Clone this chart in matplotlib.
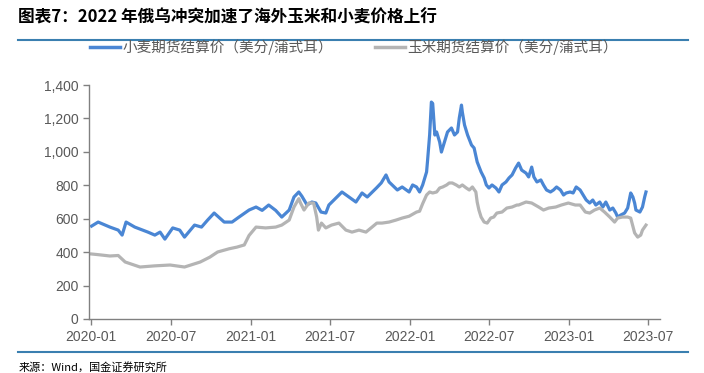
import pandas as pd
import matplotlib
matplotlib.use('Agg')
import matplotlib.pyplot as plt
import matplotlib.dates as mdates
from matplotlib.ticker import FuncFormatter, MultipleLocator
from matplotlib.lines import Line2D

plt.rcParams['font.family'] = ['Noto Sans CJK SC', 'DejaVu Sans']

# wheat futures settlement (US cents / bushel)
wheat_dates = ['2020-01-02', '2020-01-17', '2020-02-13', '2020-03-03', '2020-03-12', '2020-03-21',
               '2020-04-10', '2020-05-10', '2020-05-26', '2020-06-07', '2020-06-18', '2020-07-06',
               '2020-07-22', '2020-08-02', '2020-08-25', '2020-09-10', '2020-09-24', '2020-10-09',
               '2020-11-01', '2020-11-19', '2020-12-05', '2020-12-28', '2021-01-13', '2021-01-27',
               '2021-02-11', '2021-02-27', '2021-03-13', '2021-03-30', '2021-04-10', '2021-04-21',
               '2021-04-28', '2021-05-10', '2021-05-21', '2021-05-30', '2021-06-11', '2021-06-22',
               '2021-06-29', '2021-07-15', '2021-07-29', '2021-08-14', '2021-08-30', '2021-09-13',
               '2021-09-25', '2021-10-16', '2021-10-27', '2021-11-07', '2021-11-14', '2021-11-21',
               '2021-12-03', '2021-12-14', '2021-12-30', '2022-01-07', '2022-01-16', '2022-01-23',
               '2022-01-30', '2022-02-08', '2022-02-10', '2022-02-15', '2022-02-19', '2022-02-22',
               '2022-02-27', '2022-03-03', '2022-03-10', '2022-03-14', '2022-03-21', '2022-03-28',
               '2022-04-06', '2022-04-13', '2022-04-20', '2022-04-24', '2022-04-29', '2022-05-01',
               '2022-05-06', '2022-05-13', '2022-05-22', '2022-05-28', '2022-06-04', '2022-06-13',
               '2022-06-20', '2022-06-25', '2022-07-01', '2022-07-08', '2022-07-17', '2022-07-24',
               '2022-07-31', '2022-08-09', '2022-08-16', '2022-08-23', '2022-08-31', '2022-09-07',
               '2022-09-14', '2022-09-24', '2022-09-30', '2022-10-07', '2022-10-12', '2022-10-19',
               '2022-10-28', '2022-11-03', '2022-11-10', '2022-11-19', '2022-11-26', '2022-12-03',
               '2022-12-12', '2022-12-19', '2022-12-25', '2023-01-03', '2023-01-10', '2023-01-17',
               '2023-01-26', '2023-02-02', '2023-02-09', '2023-02-17', '2023-02-24', '2023-03-03',
               '2023-03-12', '2023-03-19', '2023-03-26', '2023-04-04', '2023-04-11', '2023-04-18',
               '2023-04-22', '2023-04-29', '2023-05-08', '2023-05-15', '2023-05-22', '2023-05-27',
               '2023-05-31', '2023-06-03', '2023-06-12', '2023-06-18', '2023-06-23', '2023-06-26']
wheat_vals = [556, 580, 550, 532, 502, 580,
              550, 520, 502, 520, 478, 545,
              532, 490, 562, 550, 592, 634,
              580, 580, 610, 652, 670, 650,
              682, 650, 610, 652, 730, 760,
              735, 682, 700, 694, 640, 634,
              682, 724, 760, 730, 700, 754,
              730, 784, 814, 862, 820, 802,
              772, 790, 760, 802, 790, 760,
              802, 880, 940, 1101, 1298, 1290,
              1101, 1119, 1059, 999, 1059, 1119,
              1143, 1101, 1119, 1203, 1280, 1238,
              1161, 1101, 1041, 1023, 940, 880,
              844, 802, 784, 802, 784, 760,
              802, 820, 844, 862, 903, 933,
              891, 873, 850, 909, 850, 820,
              832, 802, 772, 760, 772, 790,
              772, 742, 754, 760, 754, 790,
              772, 742, 712, 694, 712, 682,
              700, 670, 700, 652, 664, 634,
              610, 622, 634, 664, 754, 730,
              694, 652, 640, 670, 730, 760]

# corn futures settlement (US cents / bushel)
corn_dates = ['2020-01-02', '2020-01-17', '2020-02-13', '2020-03-03', '2020-03-19', '2020-04-22',
              '2020-05-26', '2020-06-30', '2020-08-02', '2020-09-07', '2020-09-29', '2020-10-17',
              '2020-11-12', '2020-11-30', '2020-12-17', '2020-12-28', '2021-01-13', '2021-02-04',
              '2021-02-27', '2021-03-13', '2021-03-30', '2021-04-10', '2021-04-21', '2021-04-25',
              '2021-05-03', '2021-05-14', '2021-05-25', '2021-06-01', '2021-06-05', '2021-06-12',
              '2021-06-22', '2021-07-05', '2021-07-22', '2021-08-07', '2021-08-21', '2021-09-06',
              '2021-09-22', '2021-10-06', '2021-10-17', '2021-10-29', '2021-11-14', '2021-11-30',
              '2021-12-14', '2021-12-30', '2022-01-16', '2022-01-23', '2022-01-30', '2022-02-08',
              '2022-02-15', '2022-02-22', '2022-03-03', '2022-03-10', '2022-03-17', '2022-03-26',
              '2022-04-01', '2022-04-08', '2022-04-17', '2022-04-24', '2022-05-01', '2022-05-10',
              '2022-05-17', '2022-05-24', '2022-06-01', '2022-06-04', '2022-06-08', '2022-06-13',
              '2022-06-20', '2022-06-27', '2022-07-05', '2022-07-12', '2022-07-19', '2022-07-31',
              '2022-08-11', '2022-08-23', '2022-09-03', '2022-09-07', '2022-09-24', '2022-10-07',
              '2022-10-23', '2022-11-03', '2022-11-15', '2022-12-01', '2022-12-14', '2022-12-30',
              '2023-01-15', '2023-01-26', '2023-02-07', '2023-02-17', '2023-02-28', '2023-03-12',
              '2023-03-23', '2023-04-04', '2023-04-15', '2023-04-22', '2023-05-03', '2023-05-15',
              '2023-05-22', '2023-05-31', '2023-06-07', '2023-06-14', '2023-06-18', '2023-06-26']
corn_vals = [389, 385, 377, 380, 341, 311,
             318, 323, 311, 341, 370, 401,
             420, 430, 443, 500, 550, 545,
             550, 562, 592, 670, 720, 694,
             652, 694, 694, 610, 532, 574,
             545, 562, 574, 532, 520, 532,
             520, 550, 574, 574, 580, 592,
             604, 615, 640, 645, 690, 742,
             760, 754, 760, 784, 790, 802,
             814, 814, 802, 790, 802, 784,
             772, 790, 760, 700, 652, 610,
             580, 574, 604, 610, 634, 640,
             664, 670, 682, 682, 700, 694,
             670, 652, 664, 670, 682, 694,
             682, 682, 640, 634, 652, 664,
             640, 610, 580, 604, 610, 610,
             604, 515, 490, 502, 532, 562]

wheat = pd.Series(wheat_vals, index=pd.to_datetime(wheat_dates))
corn = pd.Series(corn_vals, index=pd.to_datetime(corn_dates))

blue = '#4a86d4'
grey = '#b4b4b4'
txt = '#595959'
rule = '#3a7fb0'

fig = plt.figure(figsize=(7.04, 3.73), dpi=100)
ax = fig.add_axes([0.1264, 0.1448, 0.811, 0.6272])

ax.plot(wheat.index, wheat.values, color=blue, lw=2.3, solid_joinstyle='round')
ax.plot(corn.index, corn.values, color=grey, lw=2.3, solid_joinstyle='round')

ax.set_ylim(0, 1400)
ax.set_xlim(pd.Timestamp('2019-12-27'), pd.Timestamp('2023-07-28'))
ax.yaxis.set_major_locator(MultipleLocator(200))
ax.yaxis.set_major_formatter(FuncFormatter(lambda v, p: f'{int(v):,}'))
ax.xaxis.set_major_locator(mdates.MonthLocator(bymonth=[1, 7]))
ax.xaxis.set_major_formatter(mdates.DateFormatter('%Y-%m'))

for s in ['top', 'right']:
    ax.spines[s].set_visible(False)
for s in ['left', 'bottom']:
    ax.spines[s].set_color('#808080')
    ax.spines[s].set_linewidth(1.0)
ax.tick_params(axis='both', colors='#808080', labelcolor=txt, labelsize=10, length=4, width=1)
ax.tick_params(axis='x', pad=4)
for lab in ax.get_xticklabels() + ax.get_yticklabels():
    lab.set_family('Liberation Sans')

handles = [Line2D([], [], color=blue, lw=2.5), Line2D([], [], color=grey, lw=2.5)]
labels = ['小麦期货结算价（美分/蒲式耳）', '玉米期货结算价（美分/蒲式耳）']
fig.legend(handles, labels, loc='center', bbox_to_anchor=(0.503, 0.874), ncol=2, frameon=False,
           handlelength=2.05, handletextpad=0.15, columnspacing=2.9, labelcolor=txt,
           prop={'size': 10.5})

fig.text(0.026, 0.953, '图表7：2022 年俄乌冲突加速了海外玉米和小麦价格上行', fontsize=12,
         fontweight='bold', style='italic', va='center', ha='left', color='black')
fig.add_artist(Line2D([0.026, 0.977], [0.893, 0.893], color=rule, lw=1.5))
fig.add_artist(Line2D([0.026, 0.977], [0.056, 0.056], color=rule, lw=1.5))
fig.text(0.026, 0.014, '来源：Wind，国金证券研究所', fontsize=8, va='center', ha='left', color='black')

fig.savefig('out.png', dpi=100)
